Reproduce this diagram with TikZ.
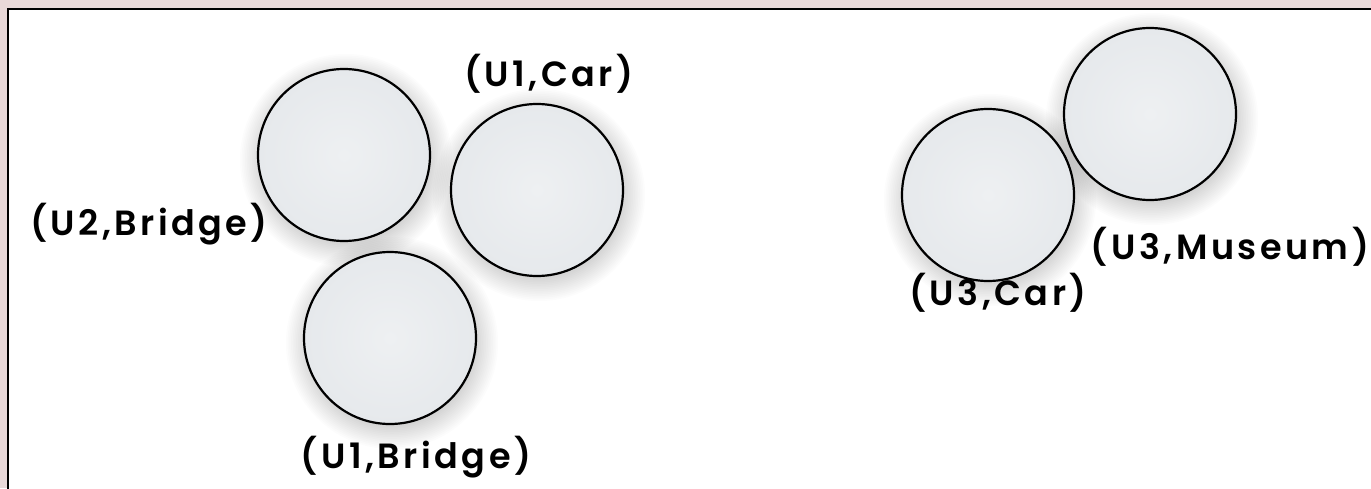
\documentclass[tikz,border=0pt]{standalone}
\usepackage{fontspec}
\setmainfont{Poppins}
\newfontfamily\lblfont[LetterSpace=10]{Poppins SemiBold}
\definecolor{bgpink}{HTML}{E9D9D9}
\definecolor{circfill}{HTML}{E6E9EC}
\definecolor{circin}{HTML}{EEF0F2}
\tikzset{
  bubble/.style={circle, draw=black, line width=2.2pt, minimum size=172pt, inner sep=0pt,
    inner color=circin, outer color=circfill},
  softshadow/.style={fill=black, fill opacity=0.011},
  lbl/.style={font=\lblfont\fontsize{35}{40}\selectfont, inner sep=0pt}
}
\begin{document}
\begin{tikzpicture}[x=1pt,y=-1pt]
\useasboundingbox (0,0) rectangle (1371,488);
\fill[bgpink] (0,0) rectangle (1371,488);
\filldraw[fill=white, draw=black, line width=2pt] (8,9) rectangle (1380,500);
% soft drop shadows
\foreach \cx/\cy in {344/155, 537/190, 390/338, 988/195, 1150/114}{
  \foreach \r in {0,...,13}{
    \pgfmathsetmacro{\rr}{84+\r*1.7}
    \fill[softshadow] (\cx+2,\cy+5) circle[radius=\rr pt];
  }
}
\node[bubble] (b1) at (344,155) {};
\node[bubble] (b2) at (537,190) {};
\node[bubble] (b3) at (390,338) {};
\node[bubble] (b4) at (988,195) {};
\node[bubble] (b5) at (1150,114) {};
\node[lbl] (l1) at (549,74) {(U1,Car)};
\node[lbl] (l2) at (149,224) {(U2,Bridge)};
\node[lbl] (l3) at (416,457) {(U1,Bridge)};
\node[lbl] (l4) at (998,293) {(U3,Car)};
\node[lbl] (l5) at (1230,247) {(U3,Museum)};
\end{tikzpicture}
\end{document}
